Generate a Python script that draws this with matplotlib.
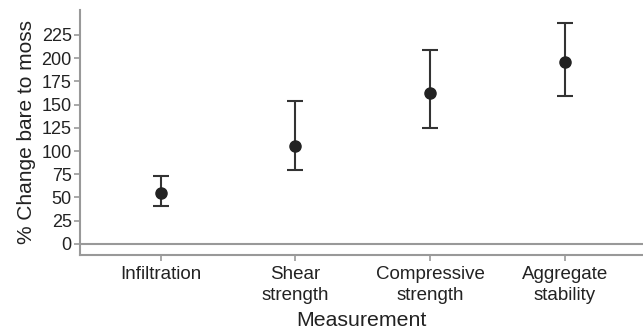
import numpy as np
import matplotlib.pyplot as plt

plt.rcParams['font.family'] = ['Liberation Sans', 'DejaVu Sans']

categories = ["Infiltration", "Shear\nstrength", "Compressive\nstrength", "Aggregate\nstability"]
mean_change = [54.6, 105.9, 162.0, 195.4]
upper_ci = [73.6, 154.4, 208.3, 237.8]
lower_ci = [41.3, 79.4, 125.3, 158.8]
y_ticks = [0, 25, 50, 75, 100, 125, 150, 175, 200, 225]

x = np.arange(1, len(categories) + 1)
mean = np.array(mean_change)
err = [mean - np.array(lower_ci), np.array(upper_ci) - mean]

fig = plt.figure(figsize=(6.43, 3.31), dpi=100)
ax = fig.add_axes([0.1244, 0.2296, 0.8756, 0.7404])

ax.axhline(0, color='#999999', lw=1.5, zorder=1)
ax.errorbar(x, mean, yerr=err, fmt='o', color='#222222', ecolor='#333333',
            elinewidth=1.5, capsize=6, capthick=1.5, markersize=8, zorder=3)

ax.set_xlim(0.4, 4.58)
ax.set_ylim(-12, 252)
ax.set_xticks(x)
ax.set_xticklabels(categories, fontsize=13.5, color='#222222', linespacing=1.3)
ax.set_yticks(y_ticks)
ax.tick_params(axis='y', labelsize=13, labelcolor='#222222', color='#999999', length=4, width=1.2, pad=2)
ax.tick_params(axis='x', color='#999999', length=4, width=1.2, pad=4)

for s in ['top', 'right']:
    ax.spines[s].set_visible(False)
for s in ['left', 'bottom']:
    ax.spines[s].set_color('#999999')
    ax.spines[s].set_linewidth(1.5)

ax.set_ylabel("% Change bare to moss", fontsize=15, color='#222222', labelpad=4)
ax.set_xlabel("Measurement", fontsize=15.3, color='#222222', labelpad=5)

fig.savefig("out.png", dpi=100)
